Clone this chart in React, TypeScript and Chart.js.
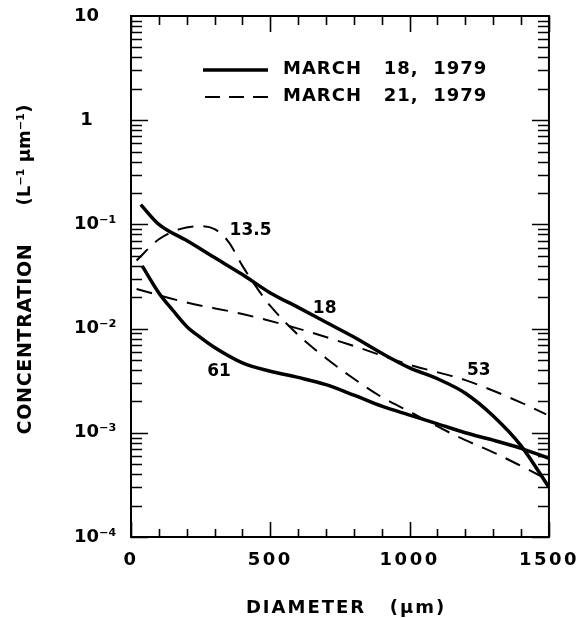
import React, { useEffect, useRef } from 'react';
import { Chart, registerables } from 'chart.js';

Chart.register(...registerables);

// ---- data ----
const xTickValues = [0, 500, 1000, 1500];
const yDecades = [1e-4, 1e-3, 1e-2, 1e-1, 1, 10];
const yTickLabels = ['10⁻⁴', '10⁻³', '10⁻²', '10⁻¹', '1', '10'];

// March 18, 1979 — curve "18"
const mar18aX = [35, 100, 200, 300, 400, 500, 600, 700, 800, 900, 1000, 1100, 1200, 1300, 1400, 1500];
const mar18aY = [0.155, 0.10, 0.07, 0.048, 0.033, 0.022, 0.016, 0.0115, 0.0083, 0.0058, 0.0042, 0.0033, 0.0024, 0.00145, 0.00075, 0.0003];

// March 18, 1979 — curve "61"
const mar18bX = [40, 100, 150, 200, 250, 300, 400, 500, 600, 700, 800, 900, 1000, 1100, 1200, 1300, 1400, 1500];
const mar18bY = [0.040, 0.022, 0.015, 0.0105, 0.0082, 0.0066, 0.0047, 0.0039, 0.0034, 0.0029, 0.0023, 0.0018, 0.00148, 0.00122, 0.00100, 0.00085, 0.00071, 0.00057];

// March 21, 1979 — curve "13.5"
const mar21aX = [20, 100, 175, 250, 300, 350, 400, 450, 500, 600, 700, 800, 900, 1000, 1100, 1200, 1300, 1400, 1500];
const mar21aY = [0.045, 0.072, 0.090, 0.096, 0.090, 0.068, 0.040, 0.025, 0.0165, 0.0087, 0.0052, 0.0033, 0.0022, 0.0016, 0.00115, 0.00085, 0.00065, 0.00048, 0.00035];

// March 21, 1979 — curve "53"
const mar21bX = [20, 200, 400, 600, 800, 1000, 1200, 1400, 1490];
const mar21bY = [0.024, 0.0178, 0.0138, 0.0100, 0.0068, 0.0045, 0.0032, 0.00195, 0.0015];

// curve annotations (data coordinates)
const curveLabelText = ['13.5', '18', '61', '53'];
const curveLabelX = [429, 695, 316, 1248];
const curveLabelY = [0.0875, 0.0156, 0.00386, 0.00394];

const legendLabels = ['MARCH   18,  1979', 'MARCH   21,  1979'];
const xTitle = 'DIAMETER';
const xTitleUnit = '(μm)';
const yTitle = 'CONCENTRATION';
const yTitleUnit = '(L⁻¹ μm⁻¹)';

const FONT = '"DejaVu Sans", sans-serif';

const pts = (xs: number[], ys: number[]) => xs.map((x, i) => ({ x, y: ys[i] }));

const decorPlugin = {
  id: 'decor',
  beforeDraw(chart: any) {
    chart.ctx.letterSpacing = '2.5px';
  },
  afterDraw(chart: any) {
    const ctx = chart.ctx;
    const { left, right, top, bottom } = chart.chartArea;
    const xs = chart.scales.x;
    const ys = chart.scales.y;
    ctx.save();
    ctx.letterSpacing = '0px';
    ctx.strokeStyle = '#000';
    ctx.fillStyle = '#000';
    ctx.setLineDash([]);

    // frame
    ctx.lineWidth = 2;
    ctx.strokeRect(left, top, right - left, bottom - top);

    // ticks
    ctx.lineWidth = 1.6;
    ctx.beginPath();
    for (let v = 0; v <= 1500; v += 100) {
      const px = Math.round(xs.getPixelForValue(v)) + 0.5;
      const major = v % 500 === 0;
      const lb = major ? 15 : 8;
      const lt = major ? 16 : 9;
      ctx.moveTo(px, bottom);
      ctx.lineTo(px, bottom - lb);
      ctx.moveTo(px, top);
      ctx.lineTo(px, top + lt);
    }
    for (let d = -4; d <= 0; d++) {
      for (let m = 1; m <= 9; m++) {
        const v = m * Math.pow(10, d);
        const py = Math.round(ys.getPixelForValue(v)) + 0.5;
        const len = m === 1 ? 17 : 11;
        ctx.moveTo(left, py);
        ctx.lineTo(left + len, py);
        ctx.moveTo(right, py);
        ctx.lineTo(right - len, py);
      }
    }
    ctx.stroke();

    // y tick labels
    ctx.font = `bold 18px ${FONT}`;
    ctx.textBaseline = 'middle';
    const lx = 74;
    const w10 = ctx.measureText('10').width;
    yDecades.forEach((v, i) => {
      const py = ys.getPixelForValue(v);
      const lab = yTickLabels[i];
      if (lab === '1') {
        ctx.textAlign = 'center';
        ctx.fillText(lab, lx + w10 / 2, py);
      } else {
        ctx.textAlign = 'left';
        ctx.fillText(lab, lx, py);
      }
    });

    // curve labels
    ctx.font = `bold 17px ${FONT}`;
    ctx.textAlign = 'center';
    curveLabelText.forEach((t, i) => {
      ctx.fillText(t, xs.getPixelForValue(curveLabelX[i]), ys.getPixelForValue(curveLabelY[i]));
    });

    // legend
    ctx.lineWidth = 3.5;
    ctx.beginPath();
    ctx.moveTo(203, 70);
    ctx.lineTo(268, 70);
    ctx.stroke();
    ctx.lineWidth = 2;
    ctx.setLineDash([15, 9]);
    ctx.beginPath();
    ctx.moveTo(205, 97);
    ctx.lineTo(268, 97);
    ctx.stroke();
    ctx.setLineDash([]);
    ctx.font = `bold 18px ${FONT}`;
    ctx.letterSpacing = '1px';
    ctx.textAlign = 'left';
    ctx.fillText(legendLabels[0], 283, 69);
    ctx.fillText(legendLabels[1], 283, 96);

    // axis titles
    ctx.letterSpacing = '2px';
    ctx.textAlign = 'center';
    ctx.fillText(xTitle, 306, 608);
    ctx.fillText(xTitleUnit, 418, 608);

    ctx.save();
    ctx.font = `bold 19px ${FONT}`;
    ctx.letterSpacing = '0.7px';
    ctx.translate(26, 339);
    ctx.rotate(-Math.PI / 2);
    ctx.fillText(yTitle, 0, 0);
    ctx.restore();
    ctx.save();
    ctx.font = `bold 18px ${FONT}`;
    ctx.letterSpacing = '0px';
    ctx.translate(25, 155);
    ctx.rotate(-Math.PI / 2);
    ctx.fillText(yTitleUnit, 0, 0);
    ctx.restore();

    ctx.restore();
    ctx.letterSpacing = '0px';
  },
};

export default function App() {
  const ref = useRef<HTMLCanvasElement | null>(null);
  useEffect(() => {
    if (!ref.current) return;
    const solid = { borderColor: '#000', borderWidth: 3.5, pointRadius: 0, fill: false, cubicInterpolationMode: 'monotone' as const };
    const dashed = { borderColor: '#000', borderWidth: 2, borderDash: [16, 10], pointRadius: 0, fill: false, cubicInterpolationMode: 'monotone' as const };
    const chart = new Chart(ref.current, {
      type: 'line',
      data: {
        datasets: [
          { label: 'March 18 (18)', data: pts(mar18aX, mar18aY), ...solid },
          { label: 'March 18 (61)', data: pts(mar18bX, mar18bY), ...solid },
          { label: 'March 21 (13.5)', data: pts(mar21aX, mar21aY), ...dashed },
          { label: 'March 21 (53)', data: pts(mar21bX, mar21bY), ...dashed },
        ],
      },
      options: {
        responsive: false,
        animation: false,
        devicePixelRatio: 1,
        layout: { padding: { left: 75, top: 16, right: 33, bottom: 0 } },
        plugins: { legend: { display: false }, tooltip: { enabled: false } },
        scales: {
          x: {
            type: 'linear',
            min: 0,
            max: 1500,
            afterBuildTicks: (s: any) => {
              s.ticks = xTickValues.map((v) => ({ value: v }));
            },
            afterFit: (s: any) => {
              s.height = 81;
            },
            ticks: {
              color: '#000',
              font: { family: FONT, size: 18, weight: 'bold' },
              padding: 13,
              maxRotation: 0,
              autoSkip: false,
              callback: (v: any) => String(v),
            },
            grid: { display: false, drawTicks: false },
            border: { display: false },
          },
          y: {
            type: 'logarithmic',
            min: 1e-4,
            max: 10,
            afterBuildTicks: (s: any) => {
              s.ticks = yDecades.map((v) => ({ value: v }));
            },
            afterFit: (s: any) => {
              s.width = 56;
            },
            ticks: { display: false },
            grid: { display: false, drawTicks: false },
            border: { display: false },
          },
        },
      },
      plugins: [decorPlugin],
    });
    return () => chart.destroy();
  }, []);
  return (
    <div style={{ position: 'absolute', left: 0, top: 0, width: 587, height: 618, background: '#fff' }}>
      <canvas ref={ref} width={587} height={618} />
    </div>
  );
}
